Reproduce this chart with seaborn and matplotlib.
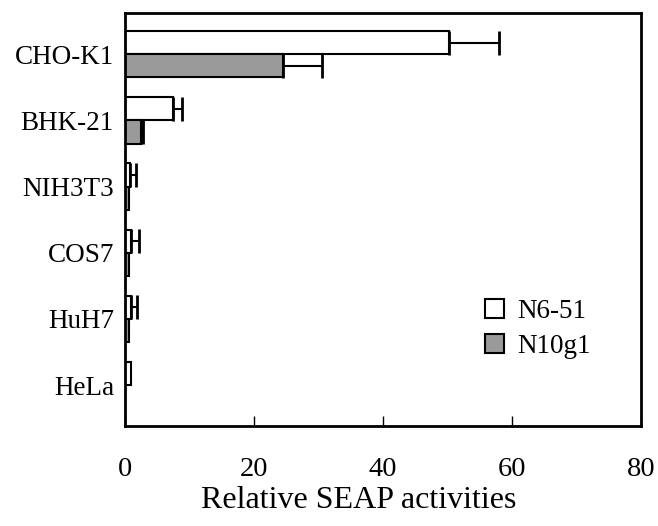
import matplotlib
matplotlib.use("Agg")
import matplotlib.pyplot as plt
import numpy as np
import pandas as pd
import seaborn as sns

cells = ["CHO-K1", "BHK-21", "NIH3T3", "COS7", "HuH7", "HeLa"]
series = ["N6-51", "N10g1"]
n6_51 = [50.3, 7.4, 0.8, 0.9, 0.9, 0.9]
n6_51_err = [7.7, 1.4, 0.9, 1.3, 0.9, 0.0]
n10g1 = [24.5, 2.5, 0.6, 0.6, 0.6, 0.0]
n10g1_err = [6.0, 0.3, 0.0, 0.0, 0.0, 0.0]

df = pd.DataFrame({
    "cell": cells * 2,
    "construct": [series[0]] * len(cells) + [series[1]] * len(cells),
    "value": n6_51 + n10g1,
})

sns.set_style("white", {"text.color": "black", "xtick.color": "black",
                        "ytick.color": "black", "axes.labelcolor": "black"})
plt.rcParams["font.family"] = ["Liberation Serif", "DejaVu Serif"]

fig = plt.figure(figsize=(6.58, 5.26), dpi=100)
ax = fig.add_axes([0.19, 0.19, 0.784, 0.785])

sns.barplot(data=df, y="cell", x="value", hue="construct", order=cells,
            hue_order=series, palette=["white", "#9a9a9a"], width=0.7,
            edgecolor="black", linewidth=1.5, orient="h", errorbar=None,
            saturation=1, ax=ax)

# one-sided error bars at the bar ends
for cont, vals, errs in zip(ax.containers, [n6_51, n10g1], [n6_51_err, n10g1_err]):
    for bar, v, e in zip(cont, vals, errs):
        if e <= 0:
            continue
        yc = bar.get_y() + bar.get_height() / 2
        ax.errorbar(v, yc, xerr=[[0], [e]], fmt="none", ecolor="black",
                    elinewidth=1.5, capsize=8.5, capthick=2)

ax.set_xlim(0, 80)
ax.set_ylim(5.62, -0.62)
ax.set_xticks([0, 20, 40, 60, 80])
ax.set_xlabel("Relative SEAP activities", fontsize=23)
ax.xaxis.set_label_coords(0.453, -0.145)
ax.set_ylabel("")
ax.tick_params(axis="x", direction="in", length=7, width=1, pad=22,
               labelsize=20.5, bottom=True)
ax.tick_params(axis="y", length=0, pad=8, labelsize=19.5)
for sp in ax.spines.values():
    sp.set_visible(True)
    sp.set_color("black")
    sp.set_linewidth(2)

ax.legend(loc="center left", bbox_to_anchor=(0.65, 0.235), frameon=False,
          fontsize=19.5, handlelength=0.7, handleheight=0.7,
          handletextpad=0.5, labelspacing=0.4)

fig.savefig("out.png", dpi=100)
